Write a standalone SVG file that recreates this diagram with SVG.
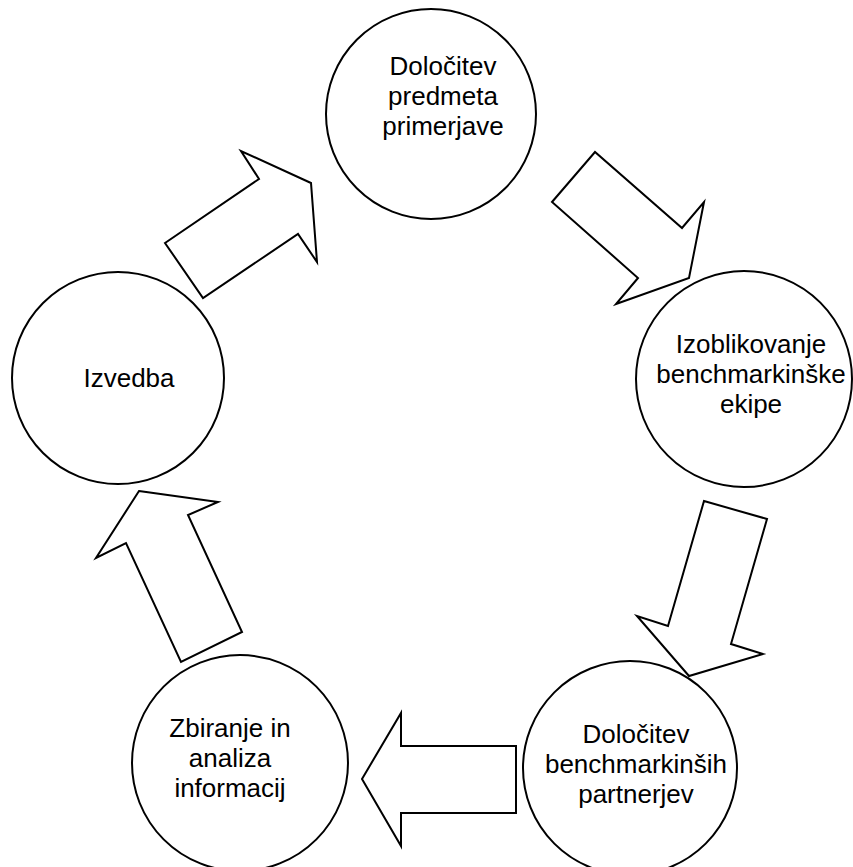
<svg xmlns="http://www.w3.org/2000/svg" width="853" height="867" viewBox="0 0 853 867">
  <style>
    .stage { fill: #ffffff; stroke: #000000; stroke-width: 2; }
    .flow { fill: #ffffff; stroke: #000000; stroke-width: 2; stroke-linejoin: miter; }
    .label { font-family: "Liberation Sans", Arial, sans-serif; font-size: 26px; fill: #000000; text-anchor: middle; }
  </style>
  <rect width="853" height="867" fill="#ffffff"/>

  <!-- block arrows between stages -->
  <g id="connectors">
    <polygon class="flow" points="165,243 259,179 241,151 311,183 317,262 298,234 203,298"/>
    <polygon class="flow" points="552,202 595,152 682,228 704,202 689,278 616,304 638,278"/>
    <polygon class="flow" points="704,501 767,519 731,644 763,654 689,676 637,616 668,626"/>
    <polygon class="flow" points="362,779 401,713 401,746 516,746 516,813 401,813 401,846"/>
    <polygon class="flow" points="139,491 218,502 188,515 242,632 181,662 126,543 96,558"/>
  </g>

  <g id="stage-1">
    <circle class="stage" cx="431" cy="114" r="105"/>
    <text class="label" x="443" y="75">Določitev</text>
    <text class="label" x="443" y="105">predmeta</text>
    <text class="label" x="443" y="135">primerjave</text>
  </g>

  <g id="stage-2">
    <circle class="stage" cx="744" cy="379" r="108"/>
    <text class="label" x="751" y="353">Izoblikovanje</text>
    <text class="label" x="751" y="383">benchmarkinške</text>
    <text class="label" x="751" y="413">ekipe</text>
  </g>

  <g id="stage-3">
    <circle class="stage" cx="630" cy="768" r="107"/>
    <text class="label" x="636" y="743">Določitev</text>
    <text class="label" x="636" y="773">benchmarkinših</text>
    <text class="label" x="636" y="803">partnerjev</text>
  </g>

  <g id="stage-4">
    <circle class="stage" cx="240" cy="763" r="108"/>
    <text class="label" x="230" y="737">Zbiranje in</text>
    <text class="label" x="230" y="767">analiza</text>
    <text class="label" x="230" y="797">informacij</text>
  </g>

  <g id="stage-5">
    <circle class="stage" cx="118" cy="378" r="106"/>
    <text class="label" x="129" y="387">Izvedba</text>
  </g>
</svg>
